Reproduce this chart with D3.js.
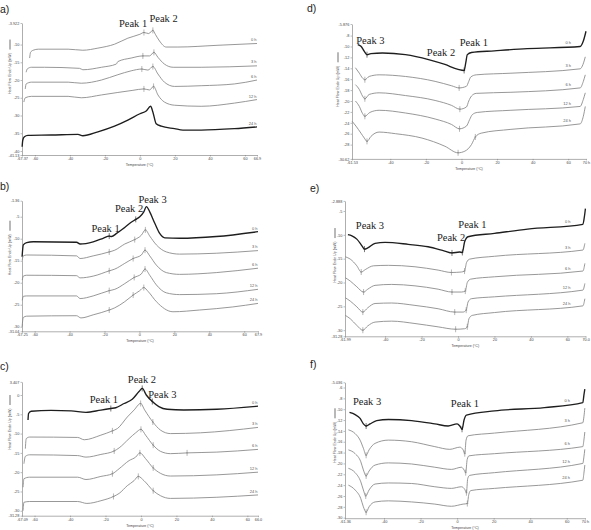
<!DOCTYPE html>
<html><head><meta charset="utf-8">
<script src="https://cdn.jsdelivr.net/npm/d3@7/dist/d3.min.js"></script>
<style>body{margin:0;background:#fff}svg{display:block}.pk{font-family:"Liberation Serif","DejaVu Serif",serif}</style>
</head><body>
<svg id="c" width="591" height="530"></svg>
<script>
// ---------- DATA ----------
const hours = ["0 h","3 h","6 h","12 h","24 h"];

// Panel a: [Temperature °C, Heat flow mW]
const a_0h = [[-63,-13.8],[-62.5,-12.2],[-61,-11.6],[-58,-11.3],[-41,-11.3],[-32.6,-11.6],[-24,-11.0],[-14.5,-9.9],[-6.9,-8.2],[0,-7.1],[2.3,-6.6],[5,-6.9],[7.4,-6.0],[8.8,-7.1],[11.2,-9.0],[15,-10.7],[21.7,-10.7],[44.6,-10.2],[66.9,-9.7]];
const a_3h = [[-65,-17.8],[-64.4,-16.9],[-62,-16.4],[-54.5,-16.4],[-34.5,-16.7],[-32.6,-17.1],[-22,-16.4],[-13.5,-15.5],[-12.6,-14.8],[-5,-13.8],[1.7,-13.2],[5.5,-13.2],[8,-12.2],[10.3,-13.6],[14,-15.5],[19,-16.4],[35,-16.4],[66.9,-16.0]];
const a_6h = [[-65.5,-22.5],[-65,-21.1],[-62,-20.6],[-41,-20.6],[-33.5,-20.9],[-22,-20.0],[-12.6,-18.5],[-5,-17.4],[1.1,-16.9],[4.6,-17.2],[7.4,-16.2],[10.3,-18.3],[14,-20.6],[19.8,-21.8],[35,-21.6],[54,-21.1],[66.9,-20.0]];
const a_12h = [[-66.3,-26.2],[-65.5,-25.0],[-62,-24.6],[-41,-24.6],[-33.5,-25.0],[-22,-24.2],[-12.6,-23.5],[-4,-22.9],[2.3,-22.5],[5.5,-22.8],[7.8,-21.8],[10.3,-24.2],[14,-26.2],[19.8,-27.1],[35,-27.4],[54,-26.5],[66.9,-25.5]];
const a_24h = [[-67.3,-38.8],[-66.9,-36.9],[-66,-36.0],[-64,-35.6],[-50.7,-35.5],[-35.4,-35.3],[-32.6,-35.7],[-24,-34.6],[-14.5,-33.0],[-6.9,-31.3],[0,-29.5],[3.6,-28.7],[6.1,-27.4],[7.4,-29.0],[9.3,-32.3],[12.2,-33.0],[19.8,-33.7],[24.6,-34.1],[35,-34.1],[54,-33.7],[66.9,-33.2]];
const a_marks = [[2.3,7.4],[1.7,8],[1.1,7.4],[2.3,7.8],[]];
const a_xTicks = [-67.37,-60,-40,-20,0,20,40,60,66.9];
const a_yTicks = [-3.922,-10,-15,-20,-25,-30,-35,-40,-41.13];
const a_peakNames = ["Peak 1","Peak 2"];
const a_peakAt = [[-3.9,-4.91],[13.5,-3.64]];

// Panel b
const b_0h = [[-67.2,-14.1],[-66.5,-11.4],[-64.6,-10.9],[-60.8,-10.7],[-36,-10.8],[-34,-11.2],[-26.5,-10.7],[-20.8,-9.9],[-17.3,-9.4],[-16,-9.5],[-13.1,-8.8],[-9.3,-7.7],[-5.5,-6.5],[-2.1,-5.6],[0.2,-5.0],[2.5,-3.9],[4,-2.7],[5.9,-3.9],[8.8,-6.5],[11.6,-8.8],[14.5,-9.8],[23,-9.9],[44,-9.5],[67.9,-8.4]];
const b_3h = [[-67.1,-14.8],[-66.5,-13.9],[-64.6,-13.7],[-36,-13.9],[-34,-14.5],[-26.5,-13.9],[-17.3,-13.0],[-14.1,-12.6],[-8.4,-11.2],[-2.7,-10.2],[1.1,-9.2],[3.4,-8.0],[5.9,-9.4],[9.7,-11.4],[15.4,-13.0],[23,-13.5],[44,-13.3],[67.9,-12.7]];
const b_6h = [[-67.1,-19.4],[-66.5,-18.5],[-64.6,-18.3],[-36,-18.4],[-34,-18.9],[-26.5,-18.5],[-17.3,-17.3],[-14.1,-16.9],[-8.4,-15.6],[-3.6,-14.5],[1.1,-13.7],[3.2,-12.6],[5.9,-13.9],[9.7,-16.0],[15.4,-17.7],[23,-18.1],[44,-17.7],[67.9,-16.7]];
const b_12h = [[-67.1,-24.0],[-66.5,-23.1],[-64.6,-23.0],[-36,-23.0],[-34,-23.6],[-26.5,-23.0],[-17.3,-21.8],[-14.1,-21.5],[-8.4,-20.2],[-3,-18.8],[1.1,-18.0],[3.2,-16.9],[5.9,-18.3],[9.7,-20.5],[15.4,-22.3],[23,-22.7],[44,-22.5],[67.9,-21.5]];
const b_24h = [[-67.2,-30.0],[-66.5,-27.9],[-64.6,-27.6],[-36,-27.5],[-33.5,-28.0],[-26.5,-27.3],[-17.3,-26.2],[-14.1,-25.7],[-8.4,-24.3],[-3.6,-22.8],[0.2,-21.8],[2.5,-21.1],[5,-22.0],[9.7,-24.3],[19.2,-26.6],[34.5,-26.2],[53.5,-25.5],[67.9,-24.7]];
const b_marks = [[-17.3,-2.1],[-17.3,-2.7,3.4],[-17.3,-3.6,3.2],[-17.3,-3,3.2],[-17.3,-3.6,2.5]];
const b_xTicks = [-67.25,-60,-40,-20,0,20,40,60,67.9];
const b_yTicks = [-1.36,-5,-10,-15,-20,-25,-30,-31.04];
const b_peakNames = ["Peak 1","Peak 2","Peak 3"];
const b_peakAt = [[-19.4,-8.47],[-5.96,-4.04],[7.5,-1.77]];

// Panel c
const c_0h = [[-63.7,-6.5],[-63.4,-4.8],[-61.9,-4.2],[-50.7,-4.0],[-39.4,-4.1],[-31,-4.5],[-22.6,-3.9],[-17,-3.5],[-14.2,-3.3],[-9.5,-2.2],[-4.9,-1.1],[-1.1,0.9],[0.7,1.7],[3,0],[6.4,-1.7],[10.1,-3.0],[14.8,-3.7],[24.1,-3.9],[42.8,-3.7],[66,-2.9]];
const c_3h = [[-65.2,-13.9],[-64.7,-11.3],[-62.8,-10.9],[-35.7,-11.0],[-32,-11.6],[-22.6,-10.4],[-16.1,-9.3],[-13.3,-8.7],[-7.7,-5.7],[-3.9,-3.9],[-0.2,-2.2],[2.1,-3.9],[6.7,-7.0],[11,-9.1],[16.6,-10.0],[33.5,-9.8],[66,-8.4]];
const c_6h = [[-66,-17.8],[-65.2,-15.9],[-62.8,-15.5],[-35.7,-15.7],[-31,-16.1],[-22.6,-15.4],[-15.1,-14.5],[-12.3,-13.7],[-6.7,-11.3],[-3,-9.8],[0,-8.9],[2.6,-10.4],[6.9,-13.0],[11,-14.6],[16.6,-15.2],[26,-15.0],[42.8,-14.8],[66,-14.1]];
const c_12h = [[-66.5,-23.9],[-66,-21.7],[-62.8,-21.3],[-35.7,-21.3],[-31,-21.9],[-22.6,-21.1],[-16.1,-20.4],[-12.3,-19.1],[-6.7,-17.0],[-3,-16.1],[-0.6,-15.0],[2.6,-16.5],[6.9,-18.9],[11,-20.3],[16.6,-21.0],[42.8,-20.7],[66,-20.0]];
const c_24h = [[-66.5,-30.0],[-66,-27.8],[-62.8,-27.6],[-35.7,-27.6],[-30.5,-28.1],[-22.6,-27.4],[-15.5,-26.3],[-12.3,-25.5],[-7.7,-23.5],[-3.9,-22.2],[-1.5,-21.1],[1.7,-22.2],[6.9,-24.8],[11,-26.1],[16.6,-26.8],[42.8,-26.5],[66,-25.9]];
const c_marks = [[-17,0.7,6.4],[-16.1,-0.2,6.7],[-15.1,0,6.9,26],[-16.1,-0.6,6.9],[-15.5,-1.5,6.9]];
const c_xTicks = [-67.09,-60,-40,-20,0,20,40,60,66.0];
const c_xLabels = ["-67.09","-60","-40","-20","0","20","40","60","66.0"];
const c_yTicks = [3.407,0,-5,-10,-15,-20,-25,-30,-31.28];
const c_peakNames = ["Peak 1","Peak 2","Peak 3"];
const c_peakAt = [[-20.9,-2.2],[0.56,3.1],[12.1,-0.78]];

// Panel d
const d_0h = [[-58.3,-9.65],[-56.5,-9.96],[-54.6,-10.9],[-53.1,-11.5],[-50.9,-11.3],[-44.4,-11.2],[-31.5,-11.5],[-18.5,-12.4],[-9.3,-13.3],[-1.9,-14.2],[1.5,-14.4],[2.4,-13.0],[3.3,-11.5],[5.6,-11.1],[18.5,-10.8],[37,-10.4],[66.7,-10.0],[68.5,-9.0],[70,-7.2]];
const d_3h = [[-59.6,-13.9],[-57.4,-14.9],[-55.6,-15.8],[-54.3,-16.1],[-51.9,-15.5],[-46.3,-15.2],[-31.5,-15.5],[-14.8,-16.4],[-5.6,-17.2],[-1.3,-17.6],[2.8,-17.3],[4.1,-16.4],[5.2,-15.6],[8.3,-15.2],[27.8,-14.9],[66.7,-14.1],[68.3,-13.3],[69.6,-11.9]];
const d_6h = [[-59.6,-17.0],[-57.4,-17.9],[-55.6,-19.1],[-54.3,-19.6],[-51.9,-18.8],[-46.3,-18.5],[-31.5,-19.0],[-14.8,-19.9],[-5.6,-20.8],[-0.9,-21.5],[2.8,-21.1],[4.1,-20.0],[5.6,-19.1],[8.3,-18.6],[27.8,-18.4],[66.7,-17.6],[68.5,-16.4],[69.6,-15.2]];
const d_12h = [[-59.6,-20.0],[-57.4,-21.0],[-55.6,-22.3],[-54.3,-22.8],[-51.5,-22.1],[-46.3,-21.7],[-31.5,-22.2],[-14.8,-23.3],[-5.6,-24.3],[-1.1,-25.1],[2.8,-24.6],[4.6,-23.4],[6.1,-22.5],[8.9,-22.1],[27.8,-21.7],[66.7,-21.0],[68.5,-19.7],[69.6,-18.5]];
const d_24h = [[-61.5,-23.7],[-59.3,-24.6],[-56.5,-25.9],[-54.6,-26.8],[-53.1,-27.4],[-50.9,-26.5],[-46.3,-25.7],[-37,-26.0],[-22.2,-26.8],[-9.3,-28.3],[-1.9,-29.5],[1.9,-29.2],[5.6,-28.0],[7.8,-26.6],[11.1,-25.9],[27.8,-25.2],[66.7,-24.2],[68.5,-22.8],[69.6,-21.0]];
const d_marks = [[-53.1,1.5],[-54.3,-1.3],[-54.3,-0.9],[-54.3,-1.1],[-53.1,-1.9,7.8]];
const d_xTicks = [-61.53,-40,-20,0,20,40,60,70];
const d_xLabels = ["-61.53","-40","-20","0","20","40","60","70 h"];
const d_yTicks = [-5.876,-8,-10,-12,-14,-16,-18,-20,-22,-24,-26,-28,-30.62];
const d_peakNames = ["Peak 3","Peak 2","Peak 1"];
const d_peakAt = [[-51.2,-9.55],[-11.5,-11.66],[7.0,-9.92]];

// Panel e
const e_0h = [[-60.4,-9.96],[-58.2,-10.2],[-55.5,-10.9],[-52.7,-12.3],[-51.3,-13.0],[-49.5,-12.75],[-45.5,-11.8],[-40,-11.6],[-27.3,-12.0],[-16.4,-12.5],[-7.3,-13.4],[-3.3,-13.8],[0.9,-13.6],[2.4,-13.7],[3.6,-11.5],[5.5,-10.4],[20,-9.7],[38.2,-8.8],[68.5,-7.8],[69.3,-6.3],[69.9,-4.5]];
const e_3h = [[-61.8,-14.6],[-59.1,-15.1],[-55.5,-16.5],[-53.1,-17.8],[-50.9,-17.3],[-46.4,-16.5],[-38.2,-16.4],[-23.6,-16.7],[-10.9,-17.4],[-3.6,-17.9],[1.8,-17.8],[3.6,-17.6],[4.7,-15.8],[6.4,-15.1],[20,-14.5],[68.5,-13.2],[69.6,-11.8]];
const e_6h = [[-61.8,-19.0],[-59.1,-19.7],[-55.5,-20.9],[-51.8,-22.0],[-49.5,-21.4],[-45.5,-20.6],[-36.4,-20.4],[-23.6,-20.7],[-10.9,-21.4],[-3.3,-22.0],[1.8,-22.0],[4,-21.8],[5.1,-20.0],[6.9,-19.3],[20,-18.8],[68.5,-17.6],[69.6,-16.0]];
const e_12h = [[-61.8,-23.2],[-59.1,-23.9],[-55.5,-25.1],[-52.2,-26.2],[-49.5,-25.3],[-45.5,-24.4],[-36.4,-24.3],[-23.6,-24.8],[-10.9,-25.5],[-1.8,-26.2],[2.7,-26.2],[4.5,-25.8],[5.5,-24.1],[7.3,-23.4],[20,-23.0],[68.5,-21.6],[69.6,-20.2]];
const e_24h = [[-61.8,-26.9],[-59.1,-27.6],[-55.5,-29.0],[-52.2,-30.0],[-49.5,-29.1],[-45.5,-28.3],[-36.4,-28.1],[-23.6,-28.6],[-10.9,-29.3],[-1.3,-29.8],[3.6,-29.7],[5.1,-29.3],[6,-27.6],[7.8,-26.9],[20,-26.3],[68.5,-24.9],[69.6,-23.4]];
const e_marks = [[-51.3,-3.3,2.4],[-53.1,-3.6,3.6],[-51.8,-3.3,4],[-52.2,-1.8,4.5],[-52.2,-1.3,5.1]];
const e_xTicks = [-61.99,-40,-20,0,20,40,60,70];
const e_xLabels = ["-61.99","-40","-20","0","20","40","60","70.0"];
const e_yTicks = [-2.888,-5,-10,-15,-20,-25,-30,-31.28];
const e_peakNames = ["Peak 3","Peak 2","Peak 1"];
const e_peakAt = [[-48.3,-8.78],[-3.8,-11.3],[7.95,-8.57]];

// Panel f
const f_0h = [[-58.9,-10.6],[-55.8,-11.0],[-53.1,-11.7],[-51.3,-12.7],[-49.8,-13.1],[-47.6,-12.7],[-44,-12.1],[-37.6,-11.9],[-24.9,-12.1],[-12.2,-12.7],[-4.9,-13.1],[0,-12.7],[1.5,-13.1],[2.7,-13.7],[3.8,-12.0],[5.1,-11.1],[20.5,-10.3],[47.8,-9.7],[68.8,-8.8],[69.4,-7.4],[69.9,-6.3]];
const f_3h = [[-59.5,-13.8],[-55.8,-14.5],[-53.1,-15.7],[-51.3,-17.2],[-49.8,-18.5],[-48.2,-17.5],[-44.9,-16.3],[-37.6,-15.7],[-24.9,-16.0],[-12.2,-16.9],[-4,-17.4],[1.5,-17.0],[3.3,-17.5],[4.2,-18.2],[4.9,-15.7],[6,-14.9],[20.5,-14.4],[68.8,-12.5],[69.4,-11.4],[69.9,-9.8]];
const f_6h = [[-59.5,-17.5],[-55.8,-18.2],[-52.7,-19.7],[-51.3,-21.2],[-49.8,-22.3],[-48.2,-21.4],[-44.9,-20.3],[-37.6,-19.9],[-24.9,-20.1],[-12.2,-20.7],[-3.1,-21.1],[2.4,-20.7],[3.8,-21.2],[4.7,-21.7],[5.5,-19.3],[6.5,-18.6],[20.5,-18.2],[68.8,-16.9],[69.4,-15.7],[69.9,-14.2]];
const f_12h = [[-59.5,-20.9],[-55.8,-21.7],[-52.7,-23.4],[-51.3,-24.9],[-50,-26.0],[-48.2,-24.9],[-44.9,-23.8],[-37.6,-23.6],[-24.9,-23.7],[-12.2,-24.3],[-3.1,-24.6],[2.4,-24.3],[4.2,-24.8],[5.1,-25.4],[5.8,-22.8],[6.9,-22.2],[20.5,-21.7],[68.8,-20.0],[69.4,-18.8],[69.9,-17.4]];
const f_24h = [[-59.5,-24.0],[-55.8,-24.9],[-52.7,-26.5],[-51.3,-28.0],[-49.8,-29.0],[-48.2,-28.0],[-44.9,-27.1],[-37.6,-26.9],[-24.9,-27.1],[-12.2,-27.5],[-3.1,-27.9],[3.3,-27.5],[5.6,-27.4],[6.4,-25.7],[7.5,-25.0],[20.5,-24.6],[68.8,-23.1],[69.4,-21.8],[69.9,-20.3]];
const f_marks = [[-49.8,2.7],[-49.8,4.2],[-49.8,4.7],[-50,5.1],[-49.8,5.6]];
const f_xTicks = [-61.36,-40,-20,0,20,40,60,70];
const f_xLabels = ["-61.36","-40","-20","0","20","40","60","70 h"];
const f_yTicks = [-5.036,-6,-8,-10,-12,-14,-16,-18,-20,-22,-24,-26,-28,-30];
const f_peakNames = ["Peak 3","Peak 1"];
const f_peakAt = [[-49.3,-9.22],[4.3,-9.63]];

// ---------- LAYOUT ----------
const panels = [
 {tag:"a)", tx:0, ty:13, x0:22, x1:257, y0:23, y1:155, xd:[-67.37,66.9], yd:[-41.13,-3.922],
  series:[a_0h,a_3h,a_6h,a_12h,a_24h], marks:a_marks, xt:a_xTicks, yt:a_yTicks, thick:[4],
  pk:a_peakNames, pkAt:a_peakAt, ylx:10, ylf:0.33, labEnd:0.5},
 {tag:"b)", tx:0, ty:190, x0:22, x1:258, y0:200.7, y1:331.3, xd:[-67.25,67.9], yd:[-31.04,-1.36],
  series:[b_0h,b_3h,b_6h,b_12h,b_24h], marks:b_marks, xt:b_xTicks, yt:b_yTicks, thick:[0],
  pk:b_peakNames, pkAt:b_peakAt, ylx:10, ylf:0.36, labEnd:0.5},
 {tag:"c)", tx:0, ty:370, x0:22, x1:258, y0:381.85, y1:515.7, xd:[-67.09,66.0], yd:[-31.28,3.407],
  series:[c_0h,c_3h,c_6h,c_12h,c_24h], marks:c_marks, xt:c_xTicks, xfmt:c_xLabels, yt:c_yTicks, thick:[0],
  pk:c_peakNames, pkAt:c_peakAt, ylx:10, ylf:0.3, labEnd:0.5},
 {tag:"d)", tx:307, ty:12, x0:352, x1:586, y0:24, y1:158.9, xd:[-61.53,70], yd:[-30.62,-5.876],
  series:[d_0h,d_3h,d_6h,d_12h,d_24h], marks:d_marks, xt:d_xTicks, xfmt:d_xLabels, yt:d_yTicks, thick:[0],
  pk:d_peakNames, pkAt:d_peakAt, ylx:338, ylf:0.41, labEnd:15},
 {tag:"e)", tx:310, ty:192, x0:345, x1:585.6, y0:200.9, y1:336.3, xd:[-61.99,70], yd:[-31.28,-2.888],
  series:[e_0h,e_3h,e_6h,e_12h,e_24h], marks:e_marks, xt:e_xTicks, xfmt:e_xLabels, yt:e_yTicks, thick:[0],
  pk:e_peakNames, pkAt:e_peakAt, ylx:335, ylf:0.4, labEnd:15},
 {tag:"f)", tx:310, ty:368, x0:345, x1:585, y0:382.3, y1:518.2, xd:[-61.36,70], yd:[-30.1,-5.036],
  series:[f_0h,f_3h,f_6h,f_12h,f_24h], marks:f_marks, xt:f_xTicks, xfmt:f_xLabels, yt:f_yTicks, thick:[0],
  pk:f_peakNames, pkAt:f_peakAt, ylx:335, ylf:0.39, labEnd:15}
];

const svg = d3.select("#c");
const SANS = "Liberation Sans, Arial, sans-serif";

function valueAt(pts, t){
  const i = d3.bisector(d=>d[0]).left(pts, t);
  if (i<=0) return pts[0][1];
  if (i>=pts.length) return pts[pts.length-1][1];
  const a = pts[i-1], b = pts[i];
  return a[1] + (b[1]-a[1])*(t-a[0])/(b[0]-a[0]);
}

panels.forEach(p=>{
  const x = d3.scaleLinear().domain(p.xd).range([p.x0,p.x1]);
  const y = d3.scaleLinear().domain(p.yd).range([p.y1,p.y0]);
  const g = svg.append("g");

  g.append("text").attr("x",p.tx).attr("y",p.ty).attr("font-family",SANS)
   .attr("font-size",10.5).attr("fill","#222").text(p.tag);

  const yAx = d3.axisLeft(y).tickValues(p.yt).tickFormat(d=>String(d)).tickSize(1.5).tickSizeOuter(0).tickPadding(1.2);
  const gy = g.append("g").attr("transform",`translate(${p.x0},0)`).call(yAx);
  const xl = p.xfmt || p.xt.map(String);
  const xAx = d3.axisBottom(x).tickValues(p.xt).tickFormat((d,i)=>xl[i]).tickSize(1.5).tickSizeOuter(0).tickPadding(1);
  const gx = g.append("g").attr("transform",`translate(0,${p.y1})`).call(xAx);
  [gx,gy].forEach(ax=>{
    ax.attr("font-family",SANS).attr("font-size",3.8);
    ax.select(".domain").attr("stroke","#777").attr("stroke-width",0.6);
    ax.selectAll(".tick line").attr("stroke","#777").attr("stroke-width",0.5);
    ax.selectAll(".tick text").attr("fill","#444");
  });

  g.append("text").attr("x",(p.x0+p.x1)/2).attr("y",p.y1+11).attr("text-anchor","middle")
   .attr("font-family",SANS).attr("font-size",3.6).attr("fill","#444").text("Temperature (°C)");
  const cy = p.y0 + p.ylf*(p.y1-p.y0);
  const yt = g.append("g").attr("transform",`translate(${p.ylx},${cy}) rotate(-90)`);
  yt.append("text").attr("x",-7).attr("y",1.2).attr("text-anchor","middle")
   .attr("font-family",SANS).attr("font-size",3.6).attr("fill","#444").text("Heat Flow Endo Up (mW)");
  yt.append("line").attr("x1",17).attr("x2",27).attr("y1",0).attr("y2",0)
   .attr("stroke","#333").attr("stroke-width",0.7);

  const line = d3.line().x(d=>x(d[0])).y(d=>y(d[1])).curve(d3.curveMonotoneX);
  p.series.forEach((s,i)=>{
    const thick = p.thick.includes(i);
    const col = thick ? "#1e1e1e" : "#858585";
    g.append("path").datum(s).attr("d",line).attr("fill","none")
     .attr("stroke",col).attr("stroke-width",thick?1.35:0.85).attr("stroke-linejoin","round");
    (p.marks[i]||[]).forEach(t=>{
      const mx = x(t), my = y(valueAt(s,t));
      g.append("line").attr("x1",mx).attr("x2",mx).attr("y1",my-3).attr("y2",my+3)
       .attr("stroke",col).attr("stroke-width",0.6);
      g.append("line").attr("x1",mx-1).attr("x2",mx+1).attr("y1",my).attr("y2",my)
       .attr("stroke",col).attr("stroke-width",0.6);
    });
    const lxEnd = p.x1 - p.labEnd;
    const lv = valueAt(s, x.invert(lxEnd-3));
    g.append("text").attr("x",lxEnd).attr("y",y(lv)-2.5).attr("text-anchor","end")
     .attr("font-family",SANS).attr("font-size",4).attr("fill","#555").text(hours[i]);
  });

  p.pk.forEach((name,i)=>{
    g.append("text").attr("class","pk").attr("x",x(p.pkAt[i][0])).attr("y",y(p.pkAt[i][1]))
     .attr("text-anchor","middle").attr("font-size",10.5)
     .attr("fill","#222").text(name);
  });
});
</script>
</body></html>
